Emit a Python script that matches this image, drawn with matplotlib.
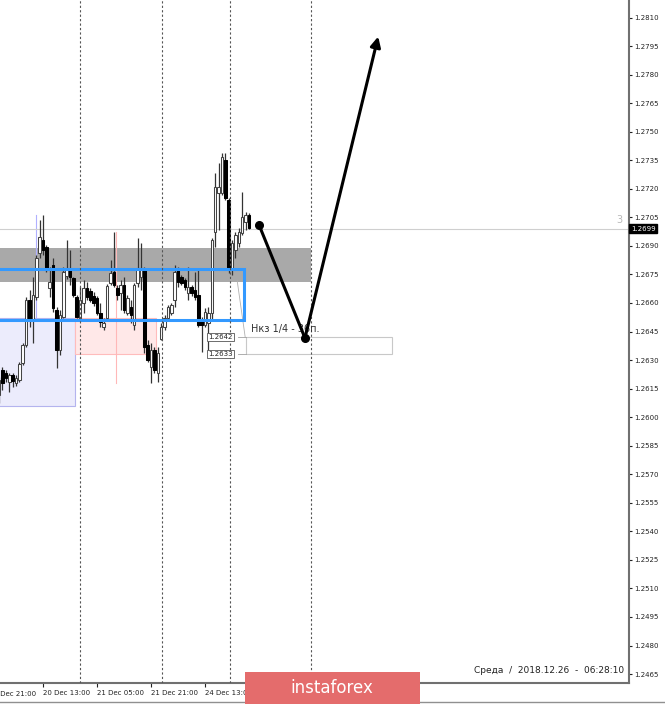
import numpy as np
import matplotlib.pyplot as plt
from matplotlib.patches import Rectangle
from matplotlib.lines import Line2D
import matplotlib.transforms as mtransforms

# H1 candles, bar index 0..74
opens = [1.26117, 1.26248, 1.26232, 1.26184, 1.26222, 1.26179, 1.26195, 1.26284, 1.26379, 1.26616,
         1.26510, 1.26631, 1.26862, 1.26931, 1.26894, 1.26679, 1.26799, 1.26563, 1.26353, 1.26526,
         1.26741, 1.26773, 1.26731, 1.26631, 1.26521, 1.26600, 1.26679, 1.26663, 1.26636, 1.26626,
         1.26547, 1.26473, 1.26521, 1.26705, 1.26762, 1.26679, 1.26652, 1.26694, 1.26547, 1.26579,
         1.26484, 1.26705, 1.26736, 1.26773, 1.26379, 1.26263, 1.26353, 1.26232, 1.26410, 1.26473,
         1.26521, 1.26547, 1.26616, 1.26773, 1.26736, 1.26721, 1.26652, 1.26684, 1.26668, 1.26642,
         1.26510, 1.26484, 1.26494, 1.26547, 1.26972, 1.27178, 1.27178, 1.27351, 1.27141, 1.26784,
         1.26878, 1.26915, 1.26967, 1.27025, 1.27062]
highs = [1.26211, 1.26263, 1.26248, 1.26232, 1.26232, 1.26222, 1.26289, 1.26389, 1.26631, 1.26668,
         1.26736, 1.26852, 1.27036, 1.27062, 1.26904, 1.26789, 1.26836, 1.26579, 1.26563, 1.26789,
         1.26931, 1.26878, 1.26736, 1.26642, 1.26684, 1.26721, 1.26710, 1.26679, 1.26657, 1.26636,
         1.26600, 1.26521, 1.26700, 1.26826, 1.26972, 1.26694, 1.26721, 1.26736, 1.26642, 1.26616,
         1.26705, 1.26941, 1.26915, 1.26789, 1.26405, 1.26389, 1.26368, 1.26368, 1.26494, 1.26537,
         1.26589, 1.26600, 1.26799, 1.26789, 1.26747, 1.26731, 1.26789, 1.26694, 1.26762, 1.26773,
         1.26526, 1.26573, 1.26579, 1.26941, 1.27283, 1.27335, 1.27388, 1.27388, 1.27152, 1.26931,
         1.26972, 1.26994, 1.27183, 1.27078, 1.27073]
lows = [1.26074, 1.26143, 1.26184, 1.26132, 1.26158, 1.26163, 1.26184, 1.26274, 1.26368, 1.26473,
        1.26389, 1.26616, 1.26836, 1.26852, 1.26762, 1.26631, 1.26552, 1.26258, 1.26327, 1.26521,
        1.26726, 1.26694, 1.26631, 1.26521, 1.26510, 1.26547, 1.26616, 1.26605, 1.26584, 1.26537,
        1.26473, 1.26458, 1.26510, 1.26694, 1.26684, 1.26616, 1.26563, 1.26547, 1.26537, 1.26494,
        1.26458, 1.26684, 1.26668, 1.26337, 1.26289, 1.26179, 1.26232, 1.26184, 1.26405, 1.26458,
        1.26510, 1.26537, 1.26579, 1.26684, 1.26694, 1.26668, 1.26616, 1.26636, 1.26616, 1.26473,
        1.26342, 1.26473, 1.26337, 1.26510, 1.26894, 1.26983, 1.27167, 1.27141, 1.26757, 1.26747,
        1.26836, 1.26894, 1.26957, 1.26983, 1.26988]
closes = [1.26195, 1.26179, 1.26206, 1.26222, 1.26190, 1.26206, 1.26279, 1.26379, 1.26616, 1.26510,
          1.26642, 1.26836, 1.26946, 1.26878, 1.26773, 1.26710, 1.26573, 1.26353, 1.26537, 1.26762,
          1.26773, 1.26736, 1.26642, 1.26526, 1.26616, 1.26679, 1.26631, 1.26616, 1.26600, 1.26547,
          1.26500, 1.26494, 1.26689, 1.26757, 1.26694, 1.26642, 1.26694, 1.26563, 1.26626, 1.26537,
          1.26694, 1.26784, 1.26784, 1.26368, 1.26300, 1.26353, 1.26248, 1.26337, 1.26473, 1.26521,
          1.26579, 1.26589, 1.26762, 1.26710, 1.26705, 1.26684, 1.26684, 1.26652, 1.26631, 1.26484,
          1.26484, 1.26552, 1.26547, 1.26931, 1.27209, 1.27209, 1.27367, 1.27152, 1.26773, 1.26915,
          1.26957, 1.26972, 1.27051, 1.27062, 1.26994]

# axis labels
price_ticks = np.arange(1.2465, 1.28101, 0.0015)
time_ticks = [-3, 13, 29, 45, 61]
time_labels = ['19 Dec 21:00', '20 Dec 13:00', '21 Dec 05:00', '21 Dec 21:00', '24 Dec 13:00']
vlines_x = [24.0, 48.3, 68.4, 92.4]

# drawn objects
gray_zone = (1.2671, 1.2689)
blue_zone = (1.2651, 1.2678)
lav_zone = (1.2606, 1.2652)
pink_zone = (1.2633, 1.2652)
target_zone = (1.2633, 1.2642)
last_price = 1.2699
path_x = [77.0, 90.6, 112.3]
path_y = [1.2701, 1.26416, 1.2800]

fig = plt.figure(figsize=(6.65, 7.04), dpi=100)
ax = fig.add_axes([0, 21 / 704, 629 / 665, 683 / 704])
ax.set_xlim(0.26, 186.6)
ax.set_ylim(1.24603, 1.28192)

# background rectangles
ax.add_patch(Rectangle((-5, gray_zone[0]), 92.4 + 5, gray_zone[1] - gray_zone[0],
                       fc='#a9a9a9', ec='none', zorder=1))
ax.add_patch(Rectangle((-5, lav_zone[0]), 22.6 + 5, lav_zone[1] - lav_zone[0],
                       fc='#ececfc', ec='#b4b4ee', lw=0.8, zorder=1))
ax.add_patch(Rectangle((22.6, pink_zone[0]), 46.5 - 22.6, pink_zone[1] - pink_zone[0],
                       fc='#ffe8e8', ec='#ffbcbc', lw=0.8, zorder=1))
ax.plot([11, 11], [1.26526, 1.27062], color='#b0b0ff', lw=0.8, zorder=1)
ax.plot([34.7, 34.7], [1.26179, 1.26972], color='#ffb8b8', lw=0.8, zorder=1)

# last price line
ax.axhline(last_price, color='#cfcfcf', lw=0.8, zorder=1)
ax.text(0.99, last_price + 0.0002, '3', transform=mtransforms.blended_transform_factory(ax.transAxes, ax.transData),
        ha='right', va='bottom', fontsize=7, color='#b8b8b8')

# candles
idx = np.arange(len(opens))
o = np.array(opens)
c = np.array(closes)
up = c >= o
bottom = np.minimum(o, c)
height = np.maximum(np.abs(c - o), 0.00004)
ax.vlines(idx, lows, highs, color='#333333', lw=0.9, zorder=3)
ax.bar(idx[up], height[up], bottom=bottom[up], width=0.75, color='white',
       edgecolor='#444444', linewidth=0.75, zorder=4)
ax.bar(idx[~up], height[~up], bottom=bottom[~up], width=0.75, color='black',
       edgecolor='black', linewidth=0.75, zorder=4)

# blue rectangle outline
ax.add_patch(Rectangle((-5, blue_zone[0]), 72.6 + 5, blue_zone[1] - blue_zone[0],
                       fc='none', ec='#3399ff', lw=2.2, zorder=5))

# dotted vertical lines
for xv in vlines_x:
    ax.axvline(xv, color='#555555', lw=0.8, ls=(0, (2, 2)), zorder=5)

# target zone and labels
ax.add_patch(Rectangle((73.0, target_zone[0]), 116.4 - 73.0, target_zone[1] - target_zone[0],
                       fc='none', ec='#c8c8c8', lw=0.8, zorder=2))
ax.plot([70.5, 72.9], [1.2672, target_zone[1]], color='#b0b0b0', lw=0.6, zorder=2)
for p in target_zone:
    ax.plot([70.8, 73.0], [p, p], color='#a0a0a0', lw=0.6, zorder=2)
    ax.text(62.0, p, f'{p:.4f}', ha='left', va='center', fontsize=5, color='#222222', zorder=6,
            bbox=dict(boxstyle='square,pad=0.15', fc='white', ec='#555555', lw=0.6))
ax.text(74.6, 1.26463, 'Нкз 1/4 - 36п.', ha='left', va='center', fontsize=7, color='#333333', zorder=6)

# forecast path
ax.plot(path_x[:2], path_y[:2], color='black', lw=2.2, zorder=7)
ax.plot(path_x[:2], path_y[:2], 'o', color='black', ms=5.5, zorder=7)
ax.annotate('', xy=(path_x[2], path_y[2]), xytext=(path_x[1], path_y[1]),
            arrowprops=dict(arrowstyle='-|>,head_length=0.5,head_width=0.25', color='black', lw=2.2,
                            mutation_scale=12, shrinkA=0, shrinkB=0), zorder=7)

# axes styling
for s in ['left', 'top']:
    ax.spines[s].set_visible(False)
for s in ['right', 'bottom']:
    ax.spines[s].set_color('#707070')
    ax.spines[s].set_linewidth(1.5)
ax.yaxis.tick_right()
ax.set_yticks(price_ticks)
ax.set_yticklabels([f'{v:.4f}' for v in price_ticks])
ax.tick_params(axis='y', length=2, width=0.8, pad=2, labelsize=5, colors='#222222')
ax.set_xticks(time_ticks[1:])
ax.set_xticklabels(time_labels[1:])
ax.tick_params(axis='x', length=3, width=0.8, pad=2, labelsize=5, colors='#222222')
for lbl in ax.get_xticklabels():
    lbl.set_ha('left')
ax.text(time_ticks[0], -0.012, time_labels[0], transform=mtransforms.blended_transform_factory(ax.transData, ax.transAxes),
        ha='left', va='top', fontsize=5, color='#222222', clip_on=False)

# current price label
ax.text(1.003, last_price, f'{last_price:.4f}', transform=mtransforms.blended_transform_factory(ax.transAxes, ax.transData),
        ha='left', va='center', fontsize=5, color='white', clip_on=False, zorder=8,
        bbox=dict(boxstyle='square,pad=0.25', fc='black', ec='black'))

ax.text(0.992, 0.012, 'Среда  /  2018.12.26  -  06:28:10', transform=ax.transAxes,
        ha='right', va='bottom', fontsize=6.5, color='#222222')

# bottom frame line and logo
fig.add_artist(Line2D([0, 1], [2 / 704, 2 / 704], transform=fig.transFigure, color='#909090', lw=1))
fig.add_artist(Rectangle((245 / 665, 0), 175 / 665, 32 / 704, transform=fig.transFigure,
                         fc='#e46c6c', ec='none', zorder=10))
fig.text(332 / 665, 16 / 704, 'instaforex', ha='center', va='center', fontsize=12,
         color='white', zorder=11)

fig.savefig('out.png', dpi=100)
